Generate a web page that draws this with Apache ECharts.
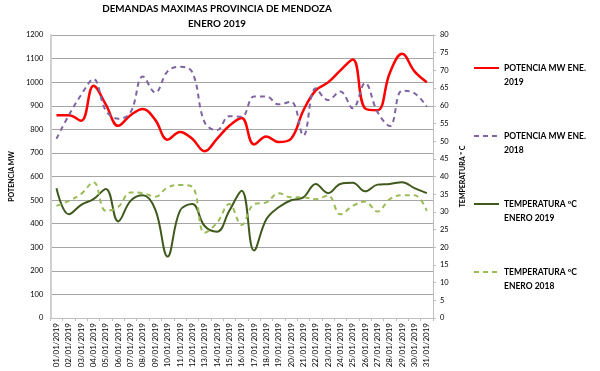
<!DOCTYPE html>
<html><head><meta charset="utf-8">
<script src="https://cdn.jsdelivr.net/npm/echarts@6/dist/echarts.min.js"></script>
<style>html,body{margin:0;padding:0;background:#fff}#c{width:600px;height:371px}</style>
</head><body><div id="c"></div>
<script>
var categories = ['01/01/2019','02/01/2019','03/01/2019','04/01/2019','05/01/2019','06/01/2019','07/01/2019','08/01/2019','09/01/2019','10/01/2019','11/01/2019','12/01/2019','13/01/2019','14/01/2019','15/01/2019','16/01/2019','17/01/2019','18/01/2019','19/01/2019','20/01/2019','21/01/2019','22/01/2019','23/01/2019','24/01/2019','25/01/2019','26/01/2019','27/01/2019','28/01/2019','29/01/2019','30/01/2019','31/01/2019'];
var potencia2019 = [860,860,836,985,905,815,860,886,840,756,789,760,707,760,815,848,736,770,746,760,880,965,999,1050,1096,889,881,1039,1120,1046,1000];
var potencia2018 = [760,860,946,1013,880,845,872,1024,956,1046,1065,1042,830,796,856,853,939,939,906,917,774,974,924,960,889,996,874,814,964,953,896];
var temp2019 = [36.7,29.3,32,33.6,36.5,27.3,33.1,34.7,30.7,17.4,30.3,32.2,26,24.4,30.3,36,19.1,27.9,31.3,33.3,34.1,37.9,35.3,37.9,38.2,35.8,37.7,37.9,38.4,36.7,35.3];
var temp2018 = [31.7,33.1,35.1,38.4,30.3,31.4,35.5,35.3,34.3,36.9,37.6,37.1,24.1,26.9,32.2,26.3,32.2,32.7,35.3,34.1,34.1,33.6,34.6,29.3,31.7,32.9,30.1,33.6,34.7,34.7,30.3];
var seriesNames = ['POTENCIA MW ENE. 2019','POTENCIA MW ENE. 2018','TEMPERATURA ºC ENERO 2019','TEMPERATURA ºC ENERO 2018'];
var legendLabels = {
  'POTENCIA MW ENE. 2019':'\nPOTENCIA MW ENE.\n2019',
  'POTENCIA MW ENE. 2018':'\nPOTENCIA MW ENE.\n2018',
  'TEMPERATURA ºC ENERO 2019':'\nTEMPERATURA ºC\nENERO 2019',
  'TEMPERATURA ºC ENERO 2018':'\nTEMPERATURA ºC\nENERO 2018'
};
var FONT = 'Lato,"Liberation Sans",Arial,sans-serif';
var chart = echarts.init(document.getElementById('c'));
chart.setOption({
  animation:false,
  title:{text:'DEMANDAS MAXIMAS PROVINCIA DE MENDOZA\nENERO 2019',left:217,top:1,padding:0,textAlign:'center',
    textStyle:{fontFamily:FONT,fontSize:9.8,fontWeight:'bold',color:'#000',lineHeight:15}},
  grid:{left:37,right:167,top:35,bottom:53,containLabel:false},
  legend:{orient:'vertical',left:473,top:47,itemWidth:25,itemHeight:10,itemGap:26,padding:0,
    data:seriesNames,
    itemStyle:{opacity:0},
    formatter:function(n){return legendLabels[n];},
    textStyle:{fontFamily:FONT,fontSize:8.5,fontWeight:'bold',color:'#000',lineHeight:14}},
  xAxis:{type:'category',data:categories,boundaryGap:true,
    axisLine:{lineStyle:{color:'#bfbfbf'}},
    axisTick:{show:true,length:3,lineStyle:{color:'#bfbfbf'}},
    axisLabel:{rotate:90,interval:0,fontSize:8,fontFamily:FONT,color:'#000',margin:5}},
  yAxis:[
    {type:'value',min:0,max:1200,interval:100,name:'POTENCIA MW',nameLocation:'middle',nameGap:28,
     nameTextStyle:{fontFamily:FONT,fontSize:7,fontWeight:'bold',color:'#000'},
     axisLine:{show:true,lineStyle:{color:'#d0d0d0',width:2}},axisTick:{show:false},
     axisLabel:{fontSize:7.5,fontFamily:FONT,color:'#000',margin:7,formatter:function(v){return String(v);}},
     splitLine:{lineStyle:{color:'#a6a6a6'}}},
    {type:'value',min:0,max:80,interval:5,name:'TEMPERATURA º C',nameLocation:'middle',nameGap:22,
     nameTextStyle:{fontFamily:FONT,fontSize:7,fontWeight:'bold',color:'#000'},
     axisLine:{show:true,lineStyle:{color:'#bfbfbf'}},axisTick:{show:true,length:3,lineStyle:{color:'#bfbfbf'}},
     axisLabel:{fontSize:7.5,fontFamily:FONT,color:'#000',margin:7},
     splitLine:{show:false}}
  ],
  series:[
    {name:seriesNames[0],type:'line',data:potencia2019,yAxisIndex:0,smooth:0.4,symbol:'none',
     lineStyle:{color:'#ff0000',width:2.5},itemStyle:{color:'#ff0000'}},
    {name:seriesNames[1],type:'line',data:potencia2018,yAxisIndex:0,smooth:0.4,symbol:'none',
     lineStyle:{color:'#7f64a2',width:2,type:[5,4]},itemStyle:{color:'#7f64a2'}},
    {name:seriesNames[2],type:'line',data:temp2019,yAxisIndex:1,smooth:0.4,symbol:'none',
     lineStyle:{color:'#3f5a1c',width:2},itemStyle:{color:'#3f5a1c'}},
    {name:seriesNames[3],type:'line',data:temp2018,yAxisIndex:1,smooth:0.4,symbol:'none',
     lineStyle:{color:'#9bbb59',width:2,type:[5,4]},itemStyle:{color:'#9bbb59'}}
  ]
});
</script></body></html>
